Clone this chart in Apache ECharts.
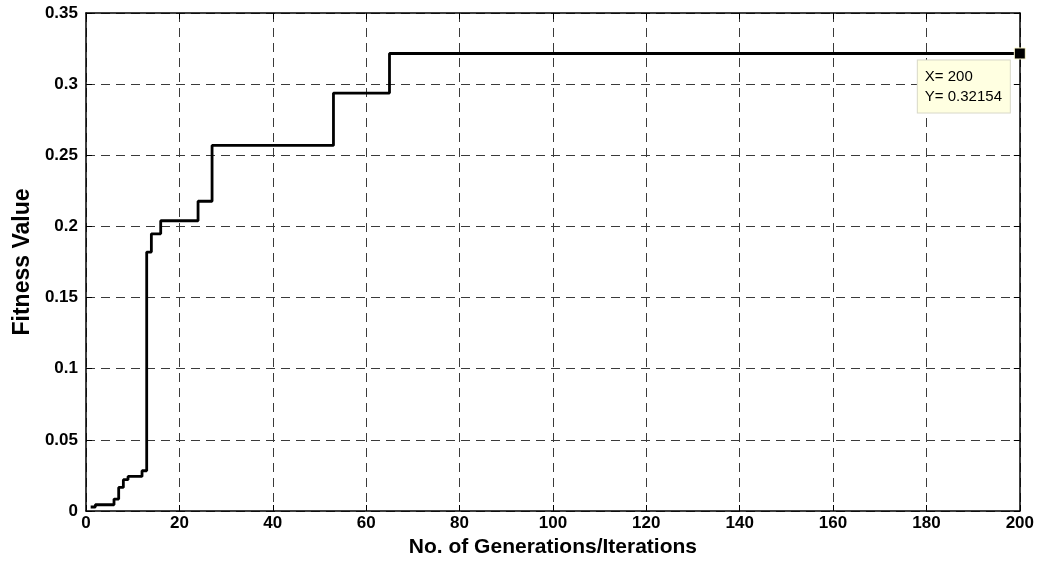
<!DOCTYPE html>
<html>
<head>
<meta charset="utf-8">
<script src="https://cdn.jsdelivr.net/npm/echarts@6/dist/echarts.min.js"></script>
<style>html,body{margin:0;padding:0;background:#fff;}#c{width:1037px;height:563px;}</style>
</head>
<body>
<div id="c"></div>
<script>
// Generation at which the best fitness changes, and the value held from there on
const generations = [1, 2, 6, 7, 8, 9, 12, 13, 14, 16, 24, 27, 53, 65, 200];
const fitness = [0.0028, 0.0044, 0.0084, 0.0166, 0.022, 0.0243, 0.0283, 0.182, 0.1948, 0.204, 0.2177, 0.2569, 0.2937, 0.32154, 0.32154];
const xTicks = [0, 20, 40, 60, 80, 100, 120, 140, 160, 180, 200];
const yTicks = [0, 0.05, 0.1, 0.15, 0.2, 0.25, 0.3, 0.35];
const tipX = 200, tipY = 0.32154;

const font = 'Liberation Sans, Arial, Helvetica, sans-serif';
const gridLine = { show: true, lineStyle: { color: '#3a3a3a', type: [9, 6], width: 1 } };
const chart = echarts.init(document.getElementById('c'));
chart.setOption({
  animation: false,
  backgroundColor: '#fff',
  grid: { left: 86, right: 15, top: 13, bottom: 51, containLabel: false },
  xAxis: [{
    type: 'value', min: 0, max: 200, interval: 20,
    name: 'No. of Generations/Iterations', nameLocation: 'middle', nameGap: 26,
    nameTextStyle: { fontFamily: font, fontWeight: 'bold', fontSize: 21, color: '#000' },
    axisLine: { show: true, lineStyle: { color: '#000', width: 1.5 } },
    axisTick: { show: true, inside: true, length: 6, lineStyle: { color: '#000' } },
    axisLabel: { fontFamily: font, fontWeight: 'bold', fontSize: 17, color: '#000', margin: 4,
      formatter: v => xTicks.includes(v) ? String(v) : '' },
    splitLine: gridLine
  }, {
    type: 'value', min: 0, max: 200, interval: 20, position: 'top',
    axisLine: { show: true, onZero: false, lineStyle: { color: '#000', width: 1.5 } },
    axisTick: { show: true, inside: true, length: 6, lineStyle: { color: '#000' } },
    axisLabel: { show: false }, splitLine: { show: false }
  }],
  yAxis: [{
    type: 'value', min: 0, max: 0.35, interval: 0.05,
    name: 'Fitness Value', nameLocation: 'middle', nameGap: 52,
    nameTextStyle: { fontFamily: font, fontWeight: 'bold', fontSize: 23, color: '#000' },
    axisLine: { show: true, lineStyle: { color: '#000', width: 1.5 } },
    axisTick: { show: true, inside: true, length: 6, lineStyle: { color: '#000' } },
    axisLabel: { fontFamily: font, fontWeight: 'bold', fontSize: 17, color: '#000', margin: 8,
      formatter: v => { const t = yTicks.find(k => Math.abs(k - v) < 1e-9); return t === undefined ? '' : String(+t.toFixed(2)); } },
    splitLine: gridLine
  }, {
    type: 'value', min: 0, max: 0.35, interval: 0.05, position: 'right',
    axisLine: { show: true, onZero: false, lineStyle: { color: '#000', width: 1.5 } },
    axisTick: { show: true, inside: true, length: 6, lineStyle: { color: '#000' } },
    axisLabel: { show: false }, splitLine: { show: false }
  }],
  series: [{
    type: 'line', step: 'end', showSymbol: false,
    data: generations.map((g, i) => [g, fitness[i]]),
    lineStyle: { color: '#000', width: 2.8 },
    markPoint: {
      symbol: 'rect', symbolSize: 11, itemStyle: { color: '#000', borderColor: '#fffbd0', borderWidth: 1 },
      data: [{ coord: [tipX, tipY], value: tipY }],
      label: {
        show: true, position: [-96, 13], align: 'left', verticalAlign: 'top',
        formatter: () => 'X= ' + tipX + '\nY= ' + tipY,
        fontFamily: font, fontSize: 15, color: '#000', lineHeight: 20,
        backgroundColor: '#ffffe1', borderColor: '#d8d8c8', borderWidth: 1,
        padding: [6, 6, 6, 7], width: 79
      }
    }
  }]
});
</script>
</body>
</html>
